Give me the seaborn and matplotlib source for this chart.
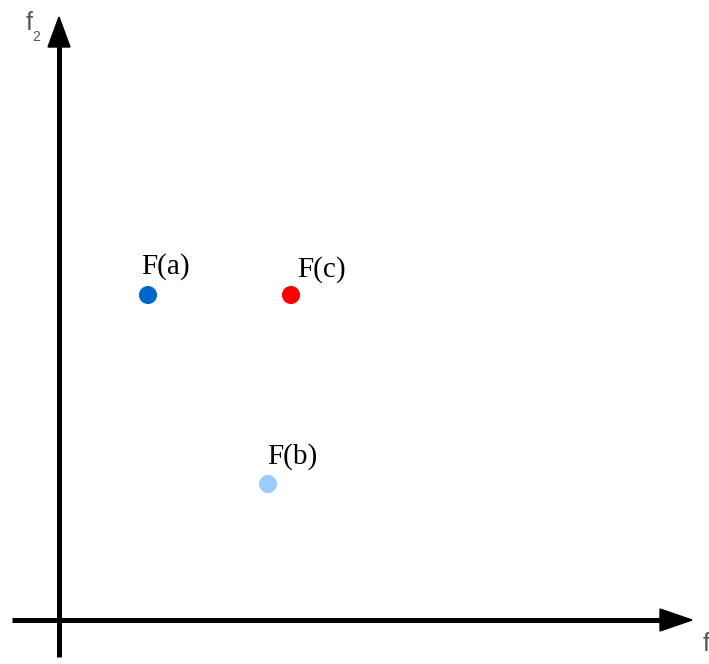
import matplotlib
matplotlib.use("Agg")
import matplotlib.pyplot as plt
import seaborn as sns
import pandas as pd
from matplotlib.patches import Polygon

# Objective-space points
labels = ["F(a)", "F(b)", "F(c)"]
f1_vals = [89, 209, 232]
f2_vals = [325, 136, 325]
colors = ["#0066CC", "#99CCFF", "#FF0000"]

df = pd.DataFrame({"f1": f1_vals, "f2": f2_vals, "label": labels})

sns.set_style("white")
fig = plt.figure(figsize=(7.09, 6.64), dpi=100)
ax = fig.add_axes([0, 0, 1, 1])
ax.set_xlim(-59, 650)
ax.set_ylim(-44, 620)
ax.axis("off")

# Axes with arrow heads
ax.plot([-47, 605], [0, 0], color="black", lw=3.6, solid_capstyle="butt", zorder=1)
ax.plot([0, 0], [-37, 577], color="black", lw=3.6, solid_capstyle="butt", zorder=1)
ax.add_patch(Polygon([[601, -11], [601, 11], [633, 0]], closed=True,
                     color="black", zorder=2))
ax.add_patch(Polygon([[-11, 573], [11, 573], [0, 603]], closed=True,
                     color="black", zorder=2))

sns.scatterplot(data=df, x="f1", y="f2", hue="label", palette=colors,
                s=170, edgecolor="none", legend=False, ax=ax, zorder=3)

offsets = {"F(a)": (17, 28), "F(b)": (24, 27), "F(c)": (30, 25)}
for lab, x, y in zip(labels, f1_vals, f2_vals):
    dx, dy = offsets[lab]
    ax.text(x + dx, y + dy, lab, fontsize=21, family="Liberation Serif",
            ha="center", va="center", color="black")

# Axis names
ax.text(-30, 597, "f", fontsize=18, family="Liberation Sans",
        color="#555555", ha="center", va="center")
ax.text(-23, 583, "2", fontsize=10, family="Liberation Sans",
        color="#555555", ha="center", va="center")
ax.text(647, -24, "f", fontsize=18, family="Liberation Sans",
        color="#555555", ha="center", va="center")

fig.savefig("out.png", dpi=100)
